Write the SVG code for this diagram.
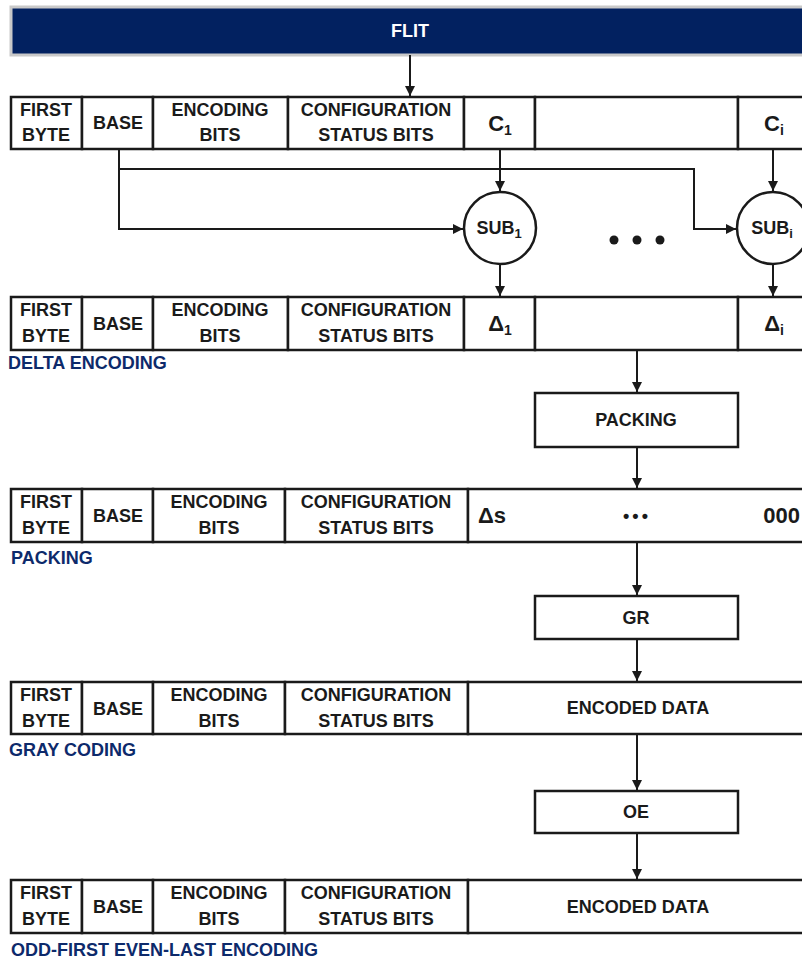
<svg xmlns="http://www.w3.org/2000/svg" width="802" height="964" viewBox="0 0 802 964">
<defs>
<marker id="arr" viewBox="0 0 10 10" refX="10" refY="5" markerWidth="10" markerHeight="10" markerUnits="userSpaceOnUse" orient="auto">
<path d="M0,0 L10,5 L0,10 z" fill="#1a1a1a"/>
</marker>
<style>
.cell{fill:#fff;stroke:#1a1a1a;stroke-width:2.5}
.box{fill:#fff;stroke:#1a1a1a;stroke-width:2.5}
.t{font-family:"Liberation Sans",Arial,sans-serif;font-weight:bold;font-size:18px;fill:#1a1a1a;text-anchor:middle}
.big{font-size:22px}
.lbl{font-family:"Liberation Sans",Arial,sans-serif;font-weight:bold;font-size:18px;fill:#0d2a6b}
.con{fill:none;stroke:#1a1a1a;stroke-width:2}
.ar{marker-end:url(#arr)}
</style>
</defs>

<g id="flit">
<rect x="11" y="7" width="800" height="48" fill="#022160" stroke="#c9c9c9" stroke-width="3"/>
<text class="t" x="410" y="37" style="fill:#fff">FLIT</text>
</g>

<g id="row1">
<rect class="cell" x="11" y="97" width="71" height="52"/>
<rect class="cell" x="82" y="97" width="71" height="52"/>
<rect class="cell" x="153" y="97" width="135" height="52"/>
<rect class="cell" x="288" y="97" width="176" height="52"/>
<rect class="cell" x="464" y="97" width="71" height="52"/>
<rect class="cell" x="535" y="97" width="203" height="52"/>
<rect class="cell" x="738" y="97" width="80" height="52"/>
<text class="t" x="46" y="116">FIRST</text>
<text class="t" x="46" y="141">BYTE</text>
<text class="t" x="118" y="129">BASE</text>
<text class="t" x="220" y="116">ENCODING</text>
<text class="t" x="220" y="141">BITS</text>
<text class="t" x="376" y="116">CONFIGURATION</text>
<text class="t" x="376" y="141">STATUS BITS</text>
<text class="t big" x="500" y="131">C<tspan font-size="14" dy="4">1</tspan></text>
<text class="t big" x="774" y="131">C<tspan font-size="14" dy="4">i</tspan></text>
</g>

<g id="sub1">
<circle cx="500" cy="228" r="36" fill="#fff" stroke="#1a1a1a" stroke-width="2.5"/>
<text class="t" x="499" y="234">SUB<tspan font-size="13" dy="4">1</tspan></text>
</g>
<g id="subi">
<circle cx="773" cy="228" r="36" fill="#fff" stroke="#1a1a1a" stroke-width="2.5"/>
<text class="t" x="772" y="234">SUB<tspan font-size="13" dy="4">i</tspan></text>
</g>
<g id="dots">
<circle cx="614" cy="240" r="4.5" fill="#1a1a1a"/>
<circle cx="637" cy="240" r="4.5" fill="#1a1a1a"/>
<circle cx="660" cy="240" r="4.5" fill="#1a1a1a"/>
</g>

<g id="row2">
<rect class="cell" x="11" y="297" width="71" height="53"/>
<rect class="cell" x="82" y="297" width="71" height="53"/>
<rect class="cell" x="153" y="297" width="135" height="53"/>
<rect class="cell" x="288" y="297" width="176" height="53"/>
<rect class="cell" x="464" y="297" width="71" height="53"/>
<rect class="cell" x="535" y="297" width="203" height="53"/>
<rect class="cell" x="738" y="297" width="80" height="53"/>
<text class="t" x="46" y="316">FIRST</text>
<text class="t" x="46" y="342">BYTE</text>
<text class="t" x="118" y="330">BASE</text>
<text class="t" x="220" y="316">ENCODING</text>
<text class="t" x="220" y="342">BITS</text>
<text class="t" x="376" y="316">CONFIGURATION</text>
<text class="t" x="376" y="342">STATUS BITS</text>
<text class="t big" x="500" y="331">Δ<tspan font-size="14" dy="4">1</tspan></text>
<text class="t big" x="774" y="331">Δ<tspan font-size="14" dy="4">i</tspan></text>
<text class="lbl" x="8" y="369">DELTA ENCODING</text>
</g>

<g id="packing-box">
<rect class="box" x="535" y="393" width="203" height="54"/>
<text class="t" x="636" y="426">PACKING</text>
</g>

<g id="row3">
<rect class="cell" x="11" y="489" width="71" height="53"/>
<rect class="cell" x="82" y="489" width="71" height="53"/>
<rect class="cell" x="153" y="489" width="132" height="53"/>
<rect class="cell" x="285" y="489" width="183" height="53"/>
<rect class="cell" x="468" y="489" width="350" height="53"/>
<text class="t" x="46" y="508">FIRST</text>
<text class="t" x="46" y="534">BYTE</text>
<text class="t" x="118" y="522">BASE</text>
<text class="t" x="219" y="508">ENCODING</text>
<text class="t" x="219" y="534">BITS</text>
<text class="t" x="376" y="508">CONFIGURATION</text>
<text class="t" x="376" y="534">STATUS BITS</text>
<text class="t big" x="478" y="523" style="text-anchor:start">Δs</text>
<text class="t" x="637" y="522" style="letter-spacing:3px">•••</text>
<text class="t big" x="800" y="523" style="text-anchor:end">000</text>
<text class="lbl" x="11" y="564">PACKING</text>
</g>

<g id="gr-box">
<rect class="box" x="535" y="596" width="203" height="43"/>
<text class="t" x="636" y="624">GR</text>
</g>

<g id="row4">
<rect class="cell" x="11" y="682" width="71" height="52"/>
<rect class="cell" x="82" y="682" width="71" height="52"/>
<rect class="cell" x="153" y="682" width="132" height="52"/>
<rect class="cell" x="285" y="682" width="183" height="52"/>
<rect class="cell" x="468" y="682" width="350" height="52"/>
<text class="t" x="46" y="701">FIRST</text>
<text class="t" x="46" y="727">BYTE</text>
<text class="t" x="118" y="715">BASE</text>
<text class="t" x="219" y="701">ENCODING</text>
<text class="t" x="219" y="727">BITS</text>
<text class="t" x="376" y="701">CONFIGURATION</text>
<text class="t" x="376" y="727">STATUS BITS</text>
<text class="t" x="638" y="714">ENCODED DATA</text>
<text class="lbl" x="9" y="756">GRAY CODING</text>
</g>

<g id="oe-box">
<rect class="box" x="535" y="791" width="203" height="42"/>
<text class="t" x="636" y="818">OE</text>
</g>

<g id="row5">
<rect class="cell" x="11" y="880" width="71" height="53"/>
<rect class="cell" x="82" y="880" width="71" height="53"/>
<rect class="cell" x="153" y="880" width="132" height="53"/>
<rect class="cell" x="285" y="880" width="183" height="53"/>
<rect class="cell" x="468" y="880" width="350" height="53"/>
<text class="t" x="46" y="899">FIRST</text>
<text class="t" x="46" y="925">BYTE</text>
<text class="t" x="118" y="913">BASE</text>
<text class="t" x="219" y="899">ENCODING</text>
<text class="t" x="219" y="925">BITS</text>
<text class="t" x="376" y="899">CONFIGURATION</text>
<text class="t" x="376" y="925">STATUS BITS</text>
<text class="t" x="638" y="913">ENCODED DATA</text>
<text class="lbl" x="11" y="956">ODD-FIRST EVEN-LAST ENCODING</text>
</g>

<g id="connectors">
<path class="con ar" d="M410,55 V96"/>
<path class="con ar" d="M119,149 V229 H463"/>
<path class="con ar" d="M119,169 H694 V229 H736"/>
<path class="con ar" d="M500,149 V191"/>
<path class="con ar" d="M773,149 V191"/>
<path class="con ar" d="M500,264 V296"/>
<path class="con ar" d="M773,264 V296"/>
<path class="con ar" d="M637,350 V392"/>
<path class="con ar" d="M637,447 V488"/>
<path class="con ar" d="M637,542 V595"/>
<path class="con ar" d="M637,639 V681"/>
<path class="con ar" d="M637,734 V790"/>
<path class="con ar" d="M637,833 V879"/>
</g>
</svg>
